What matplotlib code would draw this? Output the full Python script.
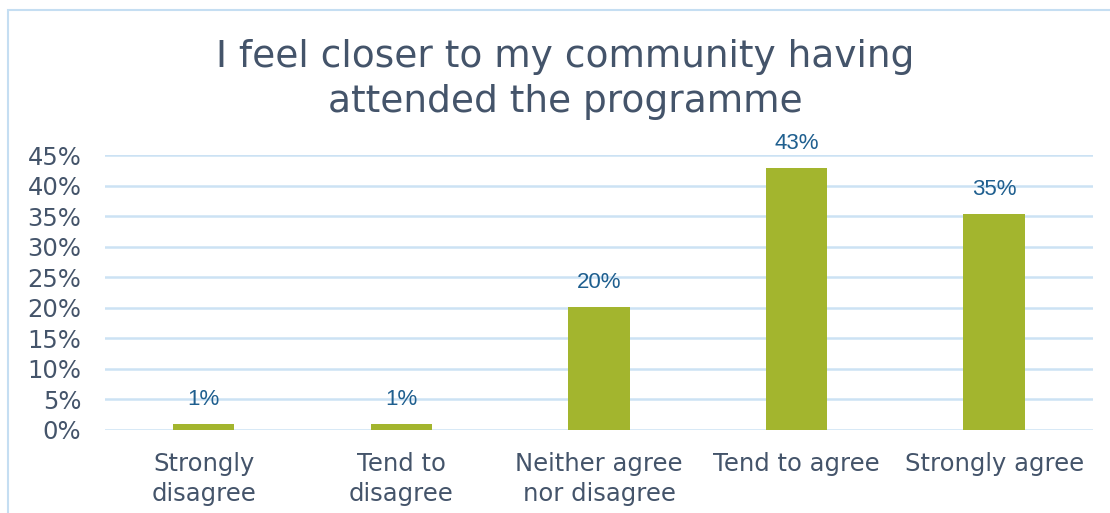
import matplotlib.pyplot as plt
from matplotlib.patches import Rectangle

# survey responses (share of respondents, %)
categories = ["Strongly\ndisagree", "Tend to\ndisagree", "Neither agree\nnor disagree",
              "Tend to agree", "Strongly agree"]
values = [0.9, 0.9, 20.1, 42.9, 35.4]
yticks = [0, 5, 10, 15, 20, 25, 30, 35, 40, 45]

text_col = "#44546A"
label_col = "#1F5F8F"
bar_col = "#A3B52E"
grid_col = "#CCE2F4"

fig = plt.figure(figsize=(11.1, 5.13), dpi=100)
ax = fig.add_axes([0.0946, 0.1618, 0.890, 0.536])

# outer chart frame
fig.patches.append(Rectangle((0.007, -0.05), 1.2, 1.03, transform=fig.transFigure,
                             fill=False, edgecolor="#C5DEF2", linewidth=1.5))

x = range(len(categories))
bars = ax.bar(x, values, width=0.31, color=bar_col, zorder=3)

for b, v in zip(bars, values):
    ax.text(b.get_x() + b.get_width() / 2, v + 2.3, f"{v:.0f}%", ha="center", va="bottom",
            fontsize=16, color=label_col, family="Liberation Sans", stretch="normal",
            zorder=4)

ax.set_xlim(-0.5, len(categories) - 0.5)
ax.set_ylim(0, 45)
ax.set_yticks(yticks)
ax.set_yticklabels([f"{t}%" for t in yticks])
ax.set_xticks(list(x))
ax.set_xticklabels(categories, linespacing=1.3)
ax.tick_params(axis="y", length=0, pad=17, labelsize=17.5, labelcolor=text_col)
ax.tick_params(axis="x", length=0, pad=16, labelsize=17.5, labelcolor=text_col)
ax.grid(axis="y", color=grid_col, linewidth=1.8, zorder=0)
for s in ax.spines.values():
    s.set_visible(False)

fig.text(0.509, 0.845, "I feel closer to my community having\nattended the programme",
         ha="center", va="center", fontsize=27, color=text_col, linespacing=1.3)

fig.savefig("out.png", dpi=100)
